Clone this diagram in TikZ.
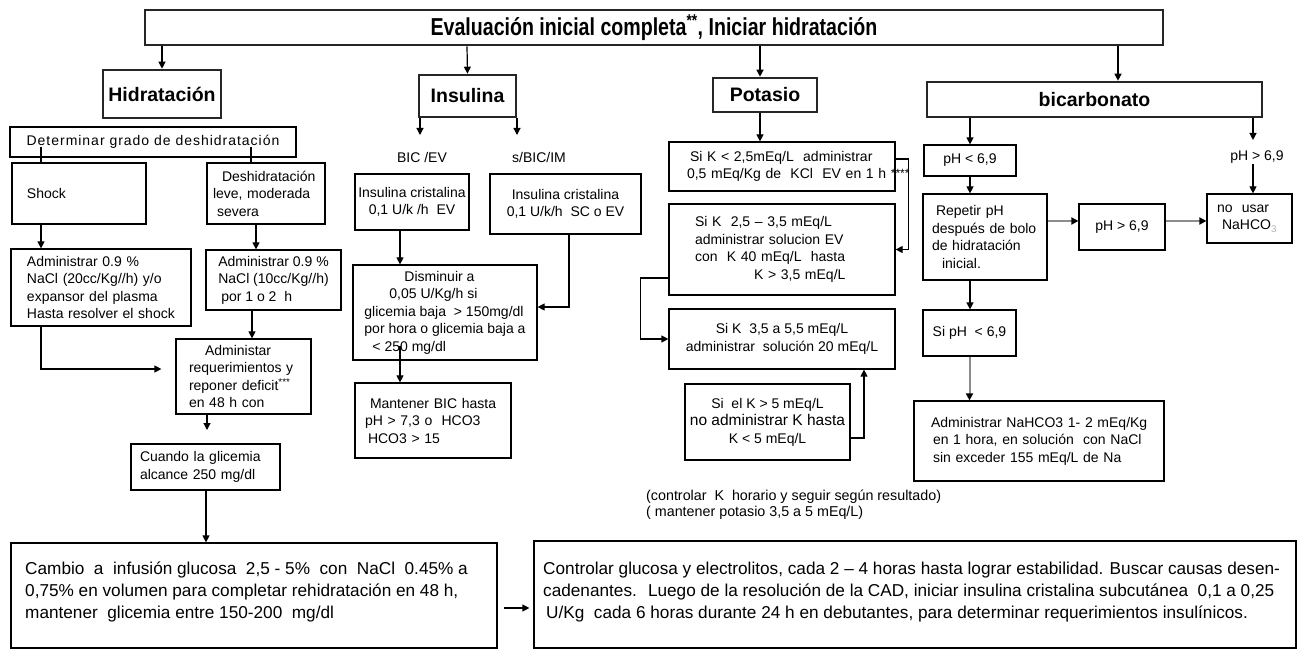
\documentclass[tikz,border=0pt]{standalone}
\usepackage{fontspec}
\setmainfont{Liberation Sans}
\newfontfamily\narrowfont[FakeStretch=0.8]{Liberation Sans}
\usetikzlibrary{arrows.meta,calc}
\newcommand{\fs}{\fontsize{14}{17.5}\selectfont}
\newcommand{\fbig}{\fontsize{17.2}{22}\selectfont}
\newcommand{\fhd}{\fontsize{19.5}{22}\selectfont\bfseries}
\begin{document}
\begin{tikzpicture}[x=1pt,y=-1pt,
  bx/.style={draw, line width=1.2pt, inner sep=0pt, font=\fs, align=center},
  hd/.style={draw=black!85, line width=2.6pt, inner sep=0pt, font=\fhd},
  arr/.style={-{Triangle[length=7pt,width=7pt]}, line width=1.2pt},
  garr/.style={-{Triangle[length=7pt,width=7pt,color=black]}, draw=black!45, line width=2pt},
  ln/.style={line width=1.2pt},
  tx/.style={inner sep=0pt, font=\fs, align=left}
]
\useasboundingbox (0,0) rectangle (1302,652);

% headers
\node[hd, minimum width=1018pt, minimum height=35pt,
  font=\narrowfont\fontsize{24.5}{26}\selectfont\bfseries] (banner) at (654,27.5)
  {Evaluación inicial completa\textsuperscript{**}, Iniciar hidratación};
\node[hd, minimum width=118pt, minimum height=48pt] (hid) at (162,94) {Hidratación};
\node[hd, minimum width=97pt, minimum height=42pt] (ins) at (467.5,96) {Insulina};
\node[hd, minimum width=104pt, minimum height=34pt] (pot) at (765,95) {Potasio};
\node[hd, minimum width=335pt, minimum height=35pt] (bic) at (1094.5,99.5) {bicarbonato};

% hidratacion
\node[bx, minimum width=286pt, minimum height=30pt,
  font=\fs\addfontfeatures{LetterSpace=7}] (det) at (153,142) {Determinar grado de deshidratación};
\node[bx, align=left, text width=104pt, inner xsep=15pt, minimum height=61pt] (shock) at (79,193.5) {Shock};
\node[bx, align=left, text width=106pt, inner xsep=6pt, minimum height=61pt] (desh) at (266,193.5)
  {\hspace*{9pt}Deshidratación\\leve, moderada\\\hspace*{4pt}severa};
\node[bx, align=left, text width=148pt, inner xsep=16pt, minimum height=77pt] (adm1) at (101,287.5)
  {Administrar 0.9 \%\\NaCl (20cc/Kg//h) y/o\\expansor del plasma\\Hasta resolver el shock};
\node[bx, align=left, minimum width=135pt, minimum height=60pt] (adm2) at (273.5,280)
  {Administrar 0.9 \%\\NaCl (10cc/Kg//h)\\\hspace*{3pt}por 1 o 2~~h};
\node[bx, align=left, text width=109pt, inner xsep=13pt, minimum height=75pt] (adm3) at (243.5,376.5)
  {\hspace*{16pt}Administar\\requerimientos y\\reponer deficit\textsuperscript{***}\\en 48 h con};
\node[bx, align=left, text width=131pt, inner xsep=9pt, minimum height=46pt] (cuando) at (205.5,467)
  {Cuando la glicemia\\alcance 250 mg/dl};
\node[bx, minimum width=486pt, minimum height=105pt] (bl) at (254,595.5) {};
\node[tx, font=\fbig, anchor=north west] (blt) at (25,562)
  {Cambio~ a~ infusión glucosa~ 2,5 - 5\%~ con~ NaCl~ 0.45\% a\\0,75\% en volumen para completar rehidratación en 48 h,\\mantener~ glicemia entre 150-200~ mg/dl};
\node[bx, minimum width=762pt, minimum height=107pt] (br) at (915,594.5) {};
\node[tx, font=\fbig, anchor=north west] (brt) at (543,562)
  {Controlar glucosa y electrolitos, cada 2 – 4 horas hasta lograr estabilidad. Buscar causas desen-\\cadenantes.~ Luego de la resolución de la CAD, iniciar insulina cristalina subcutánea~ 0,1 a 0,25\\\hspace*{3pt}U/Kg~ cada 6 horas durante 24 h en debutantes, para determinar requerimientos insulínicos.};

% insulina
\node[tx] (bicevl) at (422,157) {BIC /EV};
\node[tx] (sbicl) at (539,157) {s/BIC/IM};
\node[bx, minimum width=114pt, minimum height=56pt] (ins1) at (412,202) {Insulina cristalina\\0,1 U/k /h~~EV};
\node[bx, minimum width=151pt, minimum height=60pt] (ins2) at (565.5,204) {Insulina cristalina\\0,1 U/k/h~~SC o EV};
\node[bx, align=left, minimum width=184pt, minimum height=95pt] (dism) at (445,312.5)
  {\hspace*{40pt}Disminuir a\\\hspace*{25pt}0,05 U/Kg/h si\\glicemia baja~ > 150mg/dl\\por hora o glicemia baja a\\\hspace*{8pt}< 250 mg/dl};
\node[bx, align=left, text width=136pt, inner xsep=10pt, minimum height=75pt] (mant) at (433,420.5)
  {\hspace*{5pt}Mantener BIC hasta\\pH > 7,3 o~ HCO3\\\hspace*{3pt}HCO3 > 15};

% potasio
\node[bx, align=left, text width=190pt, inner xsep=18pt, minimum height=49pt] (k1) at (782,166.5)
  {\hspace*{3pt}Si K < 2,5mEq/L~ administrar\\\mbox{0,5 mEq/Kg de~ KCl~ EV en 1 h \raisebox{1.5pt}{\fontsize{12}{12}\selectfont ****}}};
\node[bx, align=left, text width=174pt, inner xsep=26pt, minimum height=91pt] (k2) at (782,249.5)
  {Si K~ 2,5 – 3,5 mEq/L\\administrar solucion EV\\con~ K 40 mEq/L~ hasta\\\hspace*{59pt}K > 3,5 mEq/L};
\node[bx, minimum width=226pt, minimum height=60pt] (k3) at (782,339)
  {Si K~ 3,5 a 5,5 mEq/L\\administrar~ solución 20 mEq/L};
\node[bx, minimum width=165pt, minimum height=76pt] (k4) at (767.5,422)
  {Si~ el K > 5 mEq/L\\{\fontsize{15.5}{17.5}\selectfont no administrar K hasta}\\K < 5 mEq/L};
\node[tx, font=\fontsize{14.3}{16}\selectfont, anchor=west] (note) at (646,505)
  {(controlar~ K~ horario y seguir según resultado)\\( mantener potasio 3,5 a 5 mEq/L)};

% bicarbonato
\node[bx, minimum width=92pt, minimum height=31pt] (ph1) at (970,160.5) {pH < 6,9};
\node[tx] (phl) at (1257,157) {pH > 6,9};
\node[bx, align=left, text width=106pt, inner xsep=9pt, minimum height=86pt] (rep) at (985,237)
  {\hspace*{4pt}Repetir pH\\después de bolo\\de hidratación\\\hspace*{10pt}inicial.};
\node[bx, minimum width=86pt, minimum height=46pt] (ph2) at (1122,227) {pH > 6,9};
\node[bx, align=left, text width=65pt, inner xsep=10pt, minimum height=49pt] (nouse) at (1249.5,218.5)
  {no~ usar\\\hspace*{5pt}NaHCO\textsubscript{\color{black!30}3}};
\node[bx, minimum width=93pt, minimum height=46pt] (siph) at (969.5,333) {Si pH~ < 6,9};
\node[bx, align=left, text width=216pt, inner xsep=17pt, minimum height=80pt] (admb) at (1039,441)
  {\mbox{Administrar NaHCO3 1- 2 mEq/Kg}\\\hspace*{2pt}en 1 hora, en solución~ con NaCl\\\hspace*{2pt}sin exceder 155 mEq/L de Na};

% connectors: banner
\draw[arr] ([xshift=-492pt]banner.south) -- (hid.north);
\draw[arr] ([xshift=-187pt]banner.south) -- (ins.north);
\draw[arr] ([xshift=106pt]banner.south) -- ([xshift=-5pt]pot.north);
\draw[arr] ([xshift=464pt]banner.south) -- ([xshift=23.5pt]bic.north);

% hidratacion
\draw[ln] ([xshift=-112pt,yshift=-5pt]det.center) -- ([xshift=-38pt]shock.north);
\draw[ln] ([xshift=98pt,yshift=-5pt]det.center) -- ([xshift=-15pt]desh.north);
\draw[arr] ([xshift=-38pt]shock.south) -- ([xshift=-60pt]adm1.north);
\draw[arr] ([xshift=-10pt]desh.south) -- ([xshift=-17.5pt]adm2.north);
\draw[arr] ([xshift=-21.5pt]adm2.south) -- ([xshift=8.5pt]adm3.north);
\draw[arr, shorten >=14pt] ([xshift=-60pt]adm1.south) |- ([yshift=7.5pt]adm3.west);
\coordinate (adm3tip) at (207,430);
\draw[arr] (adm3.south -| adm3tip) -- (adm3tip);
\draw[arr] ([xshift=0.5pt]cuando.south) -- ([xshift=-48pt]bl.north);
\draw[arr] ([xshift=6pt,yshift=-12.5pt]bl.east) -- ([xshift=-4pt,yshift=-13.5pt]br.west);

% insulina
\coordinate (bicevtip) at (420,135);
\coordinate (sbictip) at (517,135);
\draw[arr] (ins.south west -| bicevtip) -- (bicevtip);
\draw[arr] (ins.south east -| sbictip) -- (sbictip);
\draw[arr] ([xshift=-12pt]ins1.south) -- ([xshift=-45pt]dism.north);
\draw[arr] ([xshift=3.5pt]ins2.south) |- ([yshift=5.5pt]dism.east);
\draw[arr] ([xshift=-45pt,yshift=15pt]dism.south) -- ([xshift=-33pt]mant.north);

% potasio
\draw[arr] ([xshift=-5pt]pot.south) -- ([xshift=-22pt]k1.north);
\draw[arr] ([yshift=7.5pt]k1.east) -- ++(13,0) |- (k2.east);
\draw[arr] ([yshift=-28.5pt]k2.west) -- ++(-28,0) |- (k3.west);
\draw[arr] ([yshift=-16pt]k4.east) -| ([xshift=82pt]k3.south);

% bicarbonato
\coordinate (phltip) at (1253,140);
\draw[arr] ([xshift=-124.5pt]bic.south) -- (ph1.north);
\draw[arr] ([xshift=158.5pt]bic.south) -- (phltip);
\draw[arr] ([xshift=-4pt]phl.south) -- ([xshift=3.5pt]nouse.north);
\draw[arr] (ph1.south) -- ([xshift=-15pt]rep.north);
\draw[garr] ([yshift=16pt]rep.east) -- ([yshift=6pt]ph2.west);
\draw[garr] ([yshift=6pt]ph2.east) -- ([yshift=-2.5pt]nouse.west);
\draw[arr] ([xshift=-15pt]rep.south) -- ([xshift=0.5pt]siph.north);
\draw[garr] (siph.south) -- ([xshift=-69.5pt]admb.north);
\end{tikzpicture}
\end{document}
